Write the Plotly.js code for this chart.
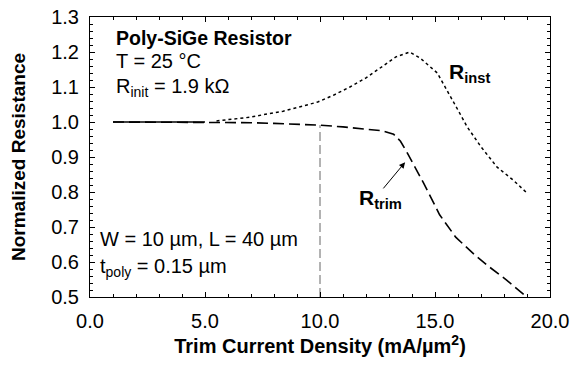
<!DOCTYPE html>
<html><head><meta charset="utf-8">
<script src="https://cdn.plot.ly/plotly-3.0.1.min.js"></script>
<style>html,body{margin:0;padding:0;background:#fff}#c{width:572px;height:365px}</style>
</head><body><div id="c"></div>
<script>
var trimX = [1, 2, 3, 4, 5, 6, 7, 8, 9, 10, 11, 12, 12.7, 13.2, 13.5, 13.8, 14.5, 15.2, 15.9, 16.7, 17.3, 18.1, 18.9];
var trimY = [1.0, 1.0, 1.0, 1.0, 1.0, 0.999, 0.998, 0.996, 0.994, 0.991, 0.986, 0.98, 0.975, 0.965, 0.945, 0.911, 0.826, 0.735, 0.671, 0.622, 0.589, 0.549, 0.505];
var instX = [5.5, 6.2, 7.0, 7.7, 8.4, 9.1, 9.9, 10.6, 11.3, 12.0, 12.7, 13.3, 13.9, 14.35, 15.1, 15.5, 16.0, 16.4, 17.0, 17.7, 18.4, 19.0];
var instY = [1.003, 1.009, 1.014, 1.023, 1.031, 1.043, 1.057, 1.077, 1.1, 1.126, 1.157, 1.186, 1.2, 1.183, 1.14, 1.091, 1.034, 0.986, 0.929, 0.871, 0.834, 0.797];
var refX = [10, 10];
var refY = [0.5, 0.991];

var F = 'Arial, "Liberation Sans", sans-serif';
var traces = [
  {x: refX, y: refY, mode: 'lines', line: {color: '#666', width: 1, dash: '9px,4px'}, hoverinfo: 'skip'},
  {x: trimX, y: trimY, mode: 'lines', line: {color: '#000', width: 1.6, dash: '11px,5px'}},
  {x: trimX.slice(0, 5), y: trimY.slice(0, 5), mode: 'lines', line: {color: '#000', width: 1.6}},
  {x: instX, y: instY, mode: 'lines', line: {color: '#000', width: 1.5, dash: 'dot'}}
];
var axisBase = {
  showgrid: false, zeroline: false, showline: true, linecolor: '#000', linewidth: 1,
  mirror: 'allticks', ticks: 'inside', ticklen: 5, tickcolor: '#000',
  tickfont: {family: F, size: 20, color: '#000'}
};
var layout = {
  width: 572, height: 365,
  margin: {l: 90, r: 22, t: 17, b: 68},
  paper_bgcolor: '#fff', plot_bgcolor: '#fff',
  showlegend: false,
  xaxis: Object.assign({}, axisBase, {
    range: [0, 20], dtick: 5, tick0: 0, tickformat: '.1f', ticklabelstandoff: 6,
    minor: {dtick: 1, ticks: 'inside', ticklen: 3, tickcolor: '#000'},
    title: {text: '<b>Trim Current Density (mA/µm<sup>2</sup>)</b>', font: {family: F, size: 20, color: '#000'}, standoff: 4}
  }),
  yaxis: Object.assign({}, axisBase, {
    range: [0.5, 1.3], dtick: 0.1, tick0: 0.5, tickformat: '.1f', ticklabelstandoff: 6,
    minor: {dtick: 0.02, ticks: 'inside', ticklen: 3, tickcolor: '#000'},
    title: {text: '<b>Normalized Resistance</b>', font: {family: F, size: 19, color: '#000'}, standoff: 20}
  }),
  annotations: [
    {xref: 'paper', yref: 'paper', x: 0.052, y: 0.925, xanchor: 'left', yanchor: 'middle', showarrow: false,
     text: '<b>Poly-SiGe Resistor</b>', font: {family: F, size: 19.5, color: '#000'}},
    {xref: 'paper', yref: 'paper', x: 0.052, y: 0.843, xanchor: 'left', yanchor: 'middle', showarrow: false,
     text: 'T = 25 °C', font: {family: F, size: 20, color: '#000'}},
    {xref: 'paper', yref: 'paper', x: 0.052, y: 0.75, xanchor: 'left', yanchor: 'middle', showarrow: false,
     text: 'R<sub>init</sub> = 1.9 kΩ', font: {family: F, size: 20, color: '#000'}},
    {xref: 'paper', yref: 'paper', x: 0.018, y: 0.207, xanchor: 'left', yanchor: 'middle', showarrow: false,
     text: 'W = 10 µm, L = 40 µm', font: {family: F, size: 20, color: '#000'}},
    {xref: 'paper', yref: 'paper', x: 0.018, y: 0.105, xanchor: 'left', yanchor: 'middle', showarrow: false,
     text: 't<sub>poly</sub> = 0.15 µm', font: {family: F, size: 20, color: '#000'}},
    {xref: 'x', yref: 'y', x: 15.5, y: 1.14, xanchor: 'left', yanchor: 'middle', showarrow: false,
     text: '<b>R<sub>inst</sub></b>', font: {family: F, size: 21, color: '#000'}},
    {xref: 'x', yref: 'y', x: 11.6, y: 0.78, xanchor: 'left', yanchor: 'middle', showarrow: false,
     text: '<b>R<sub>trim</sub></b>', font: {family: F, size: 21, color: '#000'}},
    {xref: 'x', yref: 'y', x: 13.7, y: 0.885, ax: 12.7, ay: 0.806, axref: 'x', ayref: 'y',
     showarrow: true, arrowhead: 2, arrowsize: 1.2, arrowwidth: 1, arrowcolor: '#000', text: ''}
  ]
};
Plotly.newPlot('c', traces, layout, {staticPlot: true});
</script></body></html>
